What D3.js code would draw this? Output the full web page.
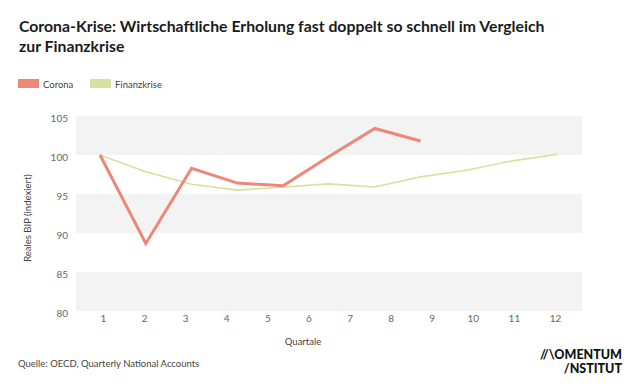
<!DOCTYPE html>
<html>
<head>
<meta charset="utf-8">
<script src="https://cdn.jsdelivr.net/npm/d3@7"></script>
<style>
  html, body { margin: 0; padding: 0; background: #fff; }
  svg { display: block; }
  text { font-family: Lato, "Open Sans", sans-serif; }
</style>
</head>
<body>
<script>
// ---- data ----
const quarterLabels = ["1","2","3","4","5","6","7","8","9","10","11","12"];
const seriesNames = ["Corona", "Finanzkrise"];
const corona = [100, 88.65, 98.3, 96.4, 96.05, 99.8, 103.4, 101.8];
const finanzkrise = [100, 97.85, 96.25, 95.5, 95.9, 96.3, 95.9, 97.2, 98.05, 99.25, 100.1];
const yTicks = [80, 85, 90, 95, 100, 105];
const colors = ["#ec8878", "#d5e19d"];

const W = 640, H = 390;
const svg = d3.select("body").append("svg").attr("width", W).attr("height", H);

const plotL = 76, plotR = 582, plotT = 116, plotB = 311;

const y = d3.scaleLinear().domain([80, 105]).range([plotB, plotT]);
const xTick = d3.scalePoint().domain(quarterLabels).range([103, 555]);
const xData = d3.scalePoint().domain(d3.range(finanzkrise.length)).range([100, 558]);

// title
const title = svg.append("text")
  .attr("font-size", 15.8).attr("font-weight", 700).attr("fill", "#1b1b1b");
title.append("tspan").attr("x", 19).attr("y", 32)
  .text("Corona-Krise: Wirtschaftliche Erholung fast doppelt so schnell im Vergleich");
title.append("tspan").attr("x", 19).attr("y", 52).text("zur Finanzkrise");

// legend
const legend = svg.append("g");
const legX = [18, 90];
seriesNames.forEach((n, i) => {
  legend.append("rect").attr("x", legX[i]).attr("y", 79).attr("width", 21).attr("height", 9)
    .attr("fill", colors[i]);
  legend.append("text").attr("x", legX[i] + 25).attr("y", 87.5)
    .attr("font-size", 9.5).attr("fill", "#444").text(n);
});

// bands
const bandPairs = [[100, 105], [90, 95], [80, 85]];
svg.append("g").selectAll("rect").data(bandPairs).join("rect")
  .attr("x", plotL).attr("width", plotR - plotL)
  .attr("y", d => y(d[1])).attr("height", d => y(d[0]) - y(d[1]))
  .attr("fill", "#f3f3f3");

// y axis
const yAxis = svg.append("g").attr("transform", `translate(${plotL - 8},0)`)
  .call(d3.axisLeft(y).tickValues(yTicks).tickSize(0).tickPadding(0));
yAxis.select(".domain").remove();
yAxis.selectAll("text").attr("font-size", 10).attr("fill", "#666")
  .attr("font-family", "Lato, sans-serif").attr("dy", "0.55em");

// x axis
const xAxis = svg.append("g").attr("transform", `translate(0,${plotB})`)
  .call(d3.axisBottom(xTick).tickSize(0).tickPadding(4));
xAxis.select(".domain").remove();
xAxis.selectAll("text").attr("font-size", 10).attr("fill", "#666")
  .attr("font-family", "Lato, sans-serif");

// axis titles
svg.append("text").attr("x", 303).attr("y", 345).attr("text-anchor", "middle")
  .attr("font-size", 9.5).attr("fill", "#444").text("Quartale");
svg.append("text").attr("transform", "translate(31,218) rotate(-90)")
  .attr("text-anchor", "middle").attr("font-size", 9.5).attr("fill", "#444")
  .text("Reales BIP (indexiert)");

// lines
const line = d3.line().x((d, i) => xData(i)).y(d => y(d));
svg.append("path").datum(finanzkrise).attr("d", line)
  .attr("fill", "none").attr("stroke", colors[1]).attr("stroke-width", 1.6)
  .attr("stroke-linejoin", "round");
svg.append("path").datum(corona).attr("d", line)
  .attr("fill", "none").attr("stroke", colors[0]).attr("stroke-width", 3)
  .attr("stroke-linejoin", "miter");

// source
svg.append("text").attr("x", 18).attr("y", 367).attr("font-size", 9.5)
  .attr("fill", "#444").text("Quelle: OECD, Quarterly National Accounts");

// logo
const logo = svg.append("text").attr("text-anchor", "end").attr("font-weight", 900)
  .attr("font-size", 12.5).attr("fill", "#111").attr("font-family", "Roboto, sans-serif");
logo.append("tspan").attr("x", 622).attr("y", 359).text("//\\OMENTUM");
logo.append("tspan").attr("x", 622).attr("y", 373).text("/NSTITUT");
</script>
</body>
</html>
